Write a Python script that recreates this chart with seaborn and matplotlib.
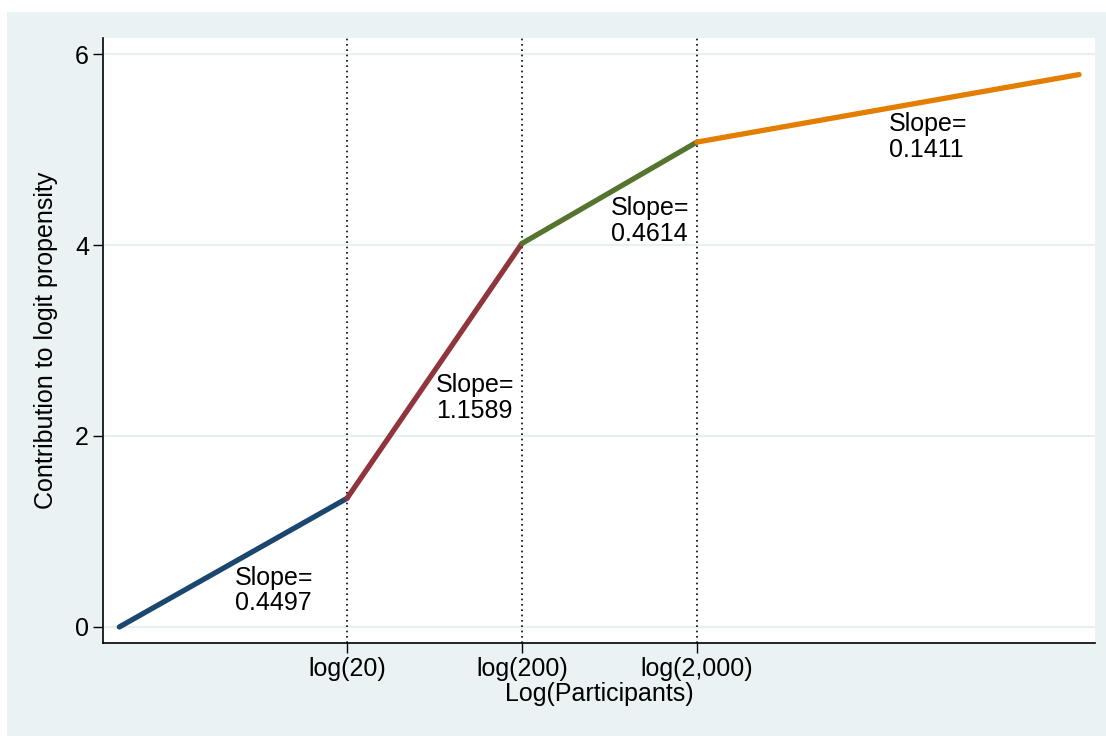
import numpy as np
import pandas as pd
import matplotlib
matplotlib.use("Agg")
import matplotlib.pyplot as plt
import seaborn as sns

# ---- data (natural-log scale of participants) ----
knot_x = [0.0, 2.996, 5.298, 7.601, 12.63]
knot_y = [0.0, 1.347, 4.016, 5.078, 5.785]
slopes = ["0.4497", "1.1589", "0.4614", "0.1411"]
segment_colors = ["#1a476f", "#90353b", "#55752f", "#e37e00"]
tick_pos = [2.996, 5.298, 7.601]
tick_labels = ["log(20)", "log(200)", "log(2,000)"]
y_ticks = [0, 2, 4, 6]
label_x = [1.52, 4.17, 6.47, 10.13]
label_y = [0.38, 2.40, 4.25, 5.13]

rows = []
for i in range(len(slopes)):
    for j in (i, i + 1):
        rows.append({"seg": f"s{i}", "x": knot_x[j], "y": knot_y[j]})
df = pd.DataFrame(rows)

sns.set_theme(style="white")
plt.rcParams["font.family"] = ["Liberation Sans", "DejaVu Sans"]
plt.rcParams["text.color"] = "black"
plt.rcParams["axes.labelcolor"] = "black"
plt.rcParams["xtick.color"] = "black"
plt.rcParams["ytick.color"] = "black"

fig = plt.figure(figsize=(11.06, 7.36), dpi=100)
fig.patch.set_facecolor("white")
bg = plt.Rectangle((7 / 1106, 0), 1 - 7 / 1106, (736 - 12) / 736,
                   transform=fig.transFigure, facecolor="#eaf2f3",
                   edgecolor="none", zorder=-10)
fig.patches.append(bg)

ax = fig.add_axes([103 / 1106, 1 - 643 / 736, (1095 - 103) / 1106, (643 - 38) / 736])
ax.set_zorder(1)
ax.set_facecolor("white")

for yv in y_ticks:
    ax.axhline(yv, color="#e8eff1", lw=1.6, zorder=1)
for xv in tick_pos:
    ax.axvline(xv, color="black", lw=1.2, ls=(0, (1, 2.2)), zorder=2)

sns.lineplot(data=df, x="x", y="y", hue="seg", palette=segment_colors,
             estimator=None, sort=False, legend=False, lw=3.8,
             solid_capstyle="round", ax=ax, zorder=3)

for sx, sy, s in zip(label_x, label_y, slopes):
    ax.text(sx, sy, "Slope=\n" + s, ha="left", va="center", fontsize=18,
            linespacing=1.08, color="black", zorder=4)

ax.set_xlim(-0.215, 12.84)
ax.set_ylim(-0.168, 6.168)
ax.set_xticks(tick_pos)
ax.set_xticklabels(tick_labels)
ax.set_yticks(y_ticks)
ax.set_yticklabels([str(v) for v in y_ticks])
ax.tick_params(axis="both", which="major", direction="out", length=7,
               width=1.0, color="black", labelcolor="black", labelsize=18,
               pad=3, left=True, bottom=True)
ax.set_xlabel("Log(Participants)", fontsize=18, labelpad=1, color="black")
ax.set_ylabel("Contribution to logit propensity", fontsize=18, labelpad=12,
              color="black")

for side in ["top", "right"]:
    ax.spines[side].set_visible(False)
for side in ["left", "bottom"]:
    ax.spines[side].set_visible(True)
    ax.spines[side].set_color("black")
    ax.spines[side].set_linewidth(1.2)

fig.savefig("out.png", dpi=100, facecolor=fig.get_facecolor())
